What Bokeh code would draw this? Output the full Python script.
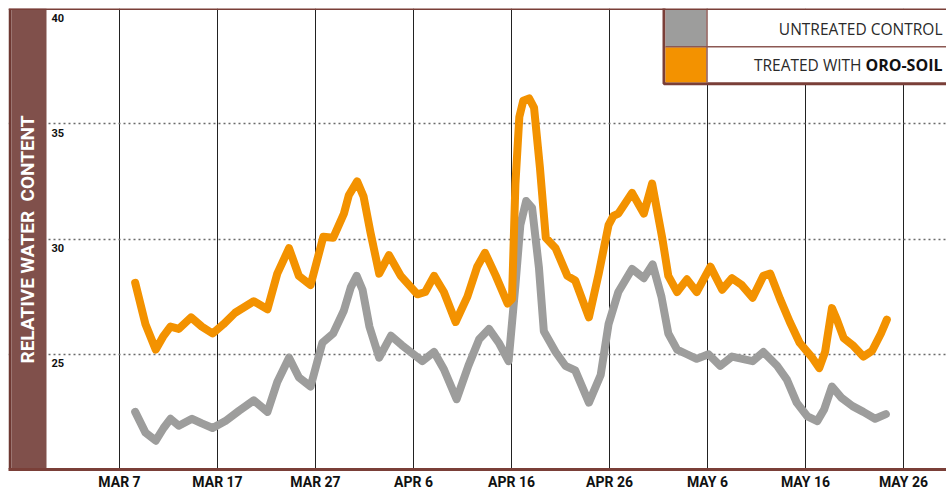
import math
from bokeh.plotting import figure
from bokeh.models import Range1d, FixedTicker, Span, Label
from bokeh.core.properties import value
from bokeh.embed import file_html
from bokeh.resources import INLINE

# ---------------- data (days after Mar 7, relative water content) ----------------
TICK_DAYS = [0, 10, 20, 30, 40, 50, 60, 70, 80]
TICK_LABELS = ["MAR 7", "MAR 17", "MAR 27", "APR 6", "APR 16", "APR 26", "MAY 6", "MAY 16", "MAY 26"]
Y_TICKS = [25, 30, 35, 40]
Y_TICK_LABELS = ["25", "30", "35", "40"]

DAY_TREATED = [1.6, 2.65, 3.7, 4.5, 5.2, 6.05, 7.3, 8.4, 9.5, 10.6, 11.8, 13.7, 15.1, 16.1, 17.3,
               18.3, 19.5, 20.8, 21.8, 22.9, 23.4, 24.25, 24.9, 25.6, 26.5, 27.5, 28.7, 30.4, 31.2,
               32.1, 33.1, 34.3, 35.5, 36.5, 37.3, 38.4, 39.6, 40.05, 40.4, 40.8, 41.2, 41.8, 42.3,
               42.9, 43.5, 44.5, 45.7, 46.5, 47.9, 48.9, 49.9, 50.4, 50.9, 52.3, 53.5, 54.35, 55.4,
               56.0, 56.9, 57.9, 58.9, 60.3, 61.5, 62.5, 63.5, 64.6, 65.7, 66.4, 67.4, 68.4, 69.4,
               70.6, 71.4, 72.0, 72.7, 73.2, 73.9, 74.8, 75.9, 76.8, 77.7, 78.3]
WATER_TREATED = [28.1, 26.3, 25.2, 25.8, 26.2, 26.1, 26.6, 26.2, 25.9, 26.3, 26.8, 27.3, 26.95, 28.5, 29.6,
                 28.4, 28.0, 30.1, 30.05, 31.1, 31.9, 32.5, 31.85, 30.3, 28.5, 29.3, 28.4, 27.6, 27.7,
                 28.4, 27.7, 26.4, 27.5, 28.8, 29.4, 28.4, 27.2, 27.4, 32.4, 35.3, 36.0, 36.1, 35.7,
                 33.1, 30.05, 29.6, 28.4, 28.2, 26.6, 28.5, 30.6, 31.0, 31.1, 32.0, 31.1, 32.4, 30.0,
                 28.4, 27.7, 28.25, 27.7, 28.8, 27.8, 28.3, 28.0, 27.45, 28.4, 28.5, 27.4, 26.4, 25.5,
                 24.9, 24.4, 25.1, 27.0, 26.5, 25.7, 25.4, 24.9, 25.15, 25.9, 26.5]

DAY_CONTROL = [1.6, 2.65, 3.7, 4.5, 5.2, 6.05, 7.4, 8.4, 9.5, 10.8, 12.2, 13.7, 15.1, 16.1, 17.3,
               18.3, 19.5, 20.7, 21.8, 22.9, 23.6, 24.2, 24.8, 25.5, 26.5, 27.7, 28.8, 30.9, 32.1,
               33.1, 34.4, 35.6, 36.7, 37.7, 38.7, 39.7, 40.4, 40.9, 41.5, 42.1, 42.8, 43.3, 44.5,
               45.5, 46.5, 47.9, 49.1, 49.9, 50.9, 52.3, 53.5, 54.4, 55.3, 56.0, 56.9, 57.9, 58.9,
               60.1, 61.3, 62.5, 64.6, 65.7, 67.1, 68.1, 69.1, 70.2, 71.2, 71.9, 72.7, 73.7, 74.8,
               75.9, 77.1, 78.2]
WATER_CONTROL = [22.5, 21.6, 21.25, 21.8, 22.2, 21.9, 22.2, 22.0, 21.8, 22.1, 22.55, 23.0, 22.5, 23.8, 24.85,
                 24.0, 23.6, 25.5, 25.9, 26.9, 27.9, 28.4, 27.8, 26.2, 24.85, 25.8, 25.4, 24.7, 25.1,
                 24.35, 23.05, 24.5, 25.65, 26.1, 25.5, 24.7, 28.0, 30.6, 31.65, 31.35, 28.75, 26.0, 25.1,
                 24.5, 24.3, 22.9, 24.1, 26.3, 27.7, 28.7, 28.3, 28.9, 27.5, 25.9, 25.2, 25.0, 24.8,
                 25.0, 24.5, 24.9, 24.7, 25.1, 24.5, 23.9, 22.9, 22.3, 22.1, 22.6, 23.6, 23.1, 22.75,
                 22.5, 22.2, 22.4]

# ---------------- layout / style ----------------
FIG_W, FIG_H = 946, 492
LEFT, TOP, BOTTOM = 8, 8, 21
PX_PER_DAY = 9.8
FIRST_TICK_PX = 119
X0 = (LEFT - FIRST_TICK_PX) / PX_PER_DAY
X1 = X0 + (FIG_W - LEFT) / PX_PER_DAY
Y0, Y1 = 20, 40
FRAME_H = FIG_H - TOP - BOTTOM

BROWN = "#7a3f38"
BAND = "#80504b"
DARK = "#6e3832"
ORANGE = "#f39200"
GREY = "#9d9d9c"


def dx(px):
    return X0 + (px - LEFT) / PX_PER_DAY


def dy(py):
    return Y1 - (py - TOP) * (Y1 - Y0) / FRAME_H


p = figure(width=FIG_W, height=FIG_H, x_range=Range1d(X0, X1), y_range=Range1d(Y0, Y1),
           output_backend="svg", toolbar_location=None,
           min_border_left=LEFT, min_border_right=0, min_border_top=TOP, min_border_bottom=BOTTOM)
p.outline_line_color = None
p.background_fill_color = "white"
p.border_fill_color = "white"

p.yaxis.visible = False
p.xaxis.ticker = FixedTicker(ticks=TICK_DAYS)
p.xaxis.major_label_overrides = {d: lab for d, lab in zip(TICK_DAYS, TICK_LABELS)}
p.xaxis.axis_line_color = BROWN
p.xaxis.axis_line_width = 3
p.xaxis.major_tick_line_color = None
p.xaxis.minor_tick_line_color = None
p.xaxis.major_tick_out = 0
p.xaxis.major_tick_in = 0
p.xaxis.minor_tick_out = 0
p.xaxis.minor_tick_in = 0
p.xaxis.major_label_standoff = 4
p.xaxis.major_label_text_font = "Roboto"
p.xaxis.major_label_text_font_style = "bold"
p.xaxis.major_label_text_font_size = "14px"
p.xaxis.major_label_text_color = "#111111"

p.xgrid.ticker = FixedTicker(ticks=TICK_DAYS)
p.xgrid.grid_line_color = "#222222"
p.xgrid.grid_line_width = 1
p.ygrid.ticker = FixedTicker(ticks=[25, 30, 35])
p.ygrid.grid_line_color = "#6a6a6a"
p.ygrid.grid_line_width = 1.5
p.ygrid.grid_line_dash = "2 3"

# left band
p.quad(left=[X0], right=[dx(11)], top=[Y1], bottom=[Y0], fill_color=DARK, line_color=None)
p.quad(left=[dx(11)], right=[dx(46)], top=[Y1], bottom=[Y0], fill_color=BAND, line_color=None)

p.add_layout(Label(x=dx(27), y=dy(240), text="RELATIVE WATER\u00a0 CONTENT", angle=math.pi / 2,
                   text_align="center", text_baseline="middle", text_color="white",
                   text_font="Roboto", text_font_style="bold", text_font_size="19px"))

# y tick labels inside the plot
p.text(x=[dx(46)] * len(Y_TICKS), y=Y_TICKS, text=Y_TICK_LABELS, x_offset=5, y_offset=5,
       text_baseline="top", text_align="left", text_font=value("Roboto"),
       text_font_style="bold", text_font_size="11px", text_color="#111111")

# series
p.line(DAY_CONTROL, WATER_CONTROL, line_color=GREY, line_width=8, line_join="round", line_cap="round")
p.line(DAY_TREATED, WATER_TREATED, line_color=ORANGE, line_width=8, line_join="round", line_cap="round")

# legend box
p.quad(left=[dx(663.5)], right=[dx(990)], top=[dy(6)], bottom=[dy(83.5)],
       fill_color="white", line_color=BROWN, line_width=3)
p.quad(left=[dx(665)], right=[dx(706)], top=[dy(9)], bottom=[dy(46)], fill_color=GREY, line_color=None)
p.quad(left=[dx(665)], right=[dx(706)], top=[dy(47)], bottom=[dy(82)], fill_color=ORANGE, line_color=None)
p.segment(x0=[dx(706.5)], y0=[dy(8)], x1=[dx(706.5)], y1=[dy(82)], line_color="#8c5853", line_width=1.5)
p.segment(x0=[dx(665)], y0=[dy(46.5)], x1=[dx(990)], y1=[dy(46.5)], line_color="#8c5853", line_width=1.5)

p.text(x=[dx(942)], y=[dy(29)], text=["UNTREATED CONTROL"], text_align="right", text_baseline="middle",
       text_font=value("Open Sans"), text_font_size="15.5px", text_color="#2a2a2a")
p.text(x=[dx(942)], y=[dy(65)], text=["ORO-SOIL"], text_align="right", text_baseline="middle",
       text_font=value("Open Sans"), text_font_style="bold", text_font_size="16px", text_color="#111111")
p.text(x=[dx(861)], y=[dy(65)], text=["TREATED WITH"], text_align="right", text_baseline="middle",
       text_font=value("Open Sans"), text_font_size="15.5px", text_color="#2a2a2a")

p.add_layout(Span(location=Y1, dimension="width", line_color=BROWN, line_width=3))

open("out.html", "w").write(file_html(p, INLINE))
